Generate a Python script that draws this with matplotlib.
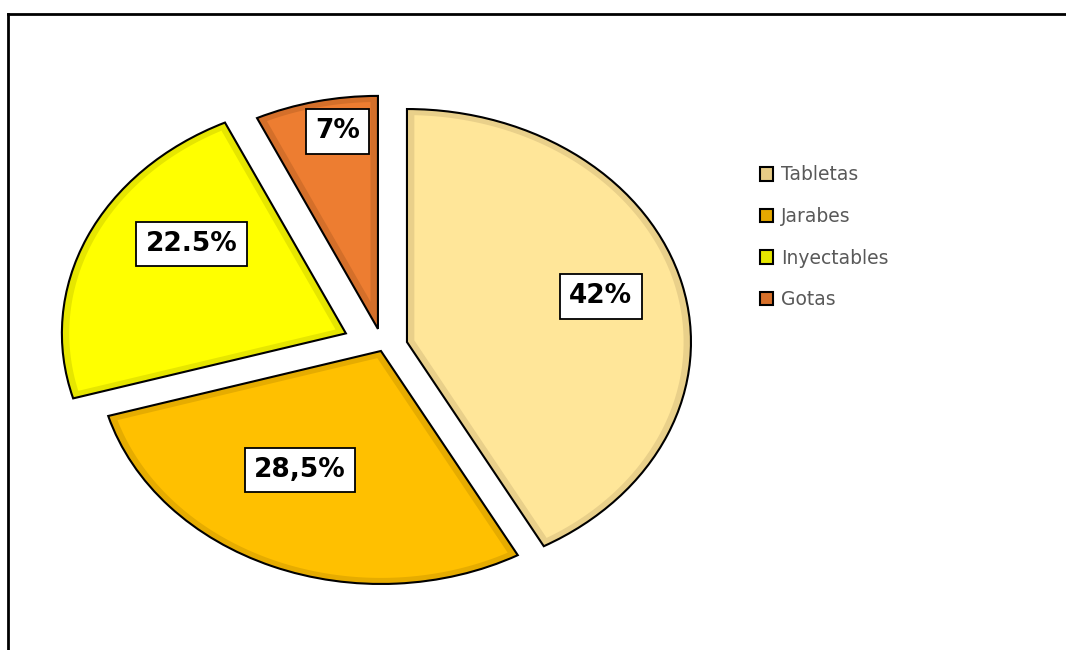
import numpy as np
import matplotlib
matplotlib.use("Agg")
from matplotlib import pyplot as plt
from matplotlib.patches import Patch, Polygon
from matplotlib.lines import Line2D

# presentaciones y porcentajes
categories = ["Tabletas", "Jarabes", "Inyectables", "Gotas"]
shares = [42, 28.5, 22.5, 7]
label_texts = ["42%", "28,5%", "22.5%", "7%"]

# colores: relleno, borde interior, muestra de leyenda
face_colors = ["#FFE699", "#FFC000", "#FFFF00", "#ED7D31"]
band_colors = ["#E9D08A", "#E6AC00", "#E6E600", "#D46F2A"]
legend_colors = ["#E8CC86", "#E6A900", "#E6E600", "#D7702A"]

explode = [0.0875, 0.018, 0.143, 0.08]
# posicion de cada etiqueta: (radio, angulo en grados)
label_pos = [(0.71, 16.0), (0.585, -119.3), (0.665, 144.8), (0.86, 99.6)]
band = 0.026

W, H = 1066, 650
cx, cy, rx, ry = 382.9, 347.1, 284.0, 233.0

fig = plt.figure(figsize=(W / 100, H / 100), dpi=100)
ax = fig.add_axes([0, 0, 1, 1])

wedges, _ = ax.pie(shares, explode=explode, colors=band_colors, startangle=90,
                   counterclock=False,
                   wedgeprops=dict(edgecolor="black", linewidth=1.5))

# relleno interior, separado del borde por una banda mas oscura
for w, fc in zip(wedges, face_colors):
    x0, y0 = w.center
    t1, t2 = np.deg2rad(w.theta1), np.deg2rad(w.theta2)
    half = (t2 - t1) / 2
    mid = t1 + half
    shift = band / np.sin(half)
    apex = (x0 + shift * np.cos(mid), y0 + shift * np.sin(mid))
    rr = w.r - band
    delta = np.arcsin(band / rr)
    ts = np.linspace(t1 + delta, t2 - delta, 200)
    pts = [apex] + [(x0 + rr * np.cos(t), y0 + rr * np.sin(t)) for t in ts]
    ax.add_patch(Polygon(pts, closed=True, facecolor=fc, edgecolor="none"))

for (r, ang), txt, ex, w in zip(label_pos, label_texts, explode, wedges):
    mid = np.deg2rad((w.theta1 + w.theta2) / 2)
    a = np.deg2rad(ang)
    x = ex * np.cos(mid) + r * np.cos(a)
    y = ex * np.sin(mid) + r * np.sin(a)
    ax.text(x, y, txt, ha="center", va="center", fontsize=19, fontweight="bold",
            color="black", zorder=5,
            bbox=dict(boxstyle="square,pad=0.35", facecolor="white",
                      edgecolor="black", linewidth=1.3))

ax.set_aspect("auto")
ax.set_xlim(-cx / rx, (W - cx) / rx)
ax.set_ylim(-(H - cy) / ry, cy / ry)
ax.axis("off")

handles = [Patch(facecolor=c, edgecolor="black", linewidth=1.5) for c in legend_colors]
leg = fig.legend(handles, categories, loc="upper left",
                 bbox_to_anchor=(752 / W, 1 - 158 / H), frameon=False,
                 fontsize=13.5, handlelength=0.7, handleheight=0.7,
                 handletextpad=0.45, labelspacing=1.2, borderaxespad=0)
for t in leg.get_texts():
    t.set_color("#595959")

# marco del area del grafico
fig.add_artist(Line2D([8 / W, 1], [1 - 14 / H, 1 - 14 / H], color="black",
                      linewidth=2, transform=fig.transFigure))
fig.add_artist(Line2D([8 / W, 8 / W], [0, 1 - 14 / H], color="black",
                      linewidth=2, transform=fig.transFigure))

fig.savefig("out.png", dpi=100, facecolor="white")
